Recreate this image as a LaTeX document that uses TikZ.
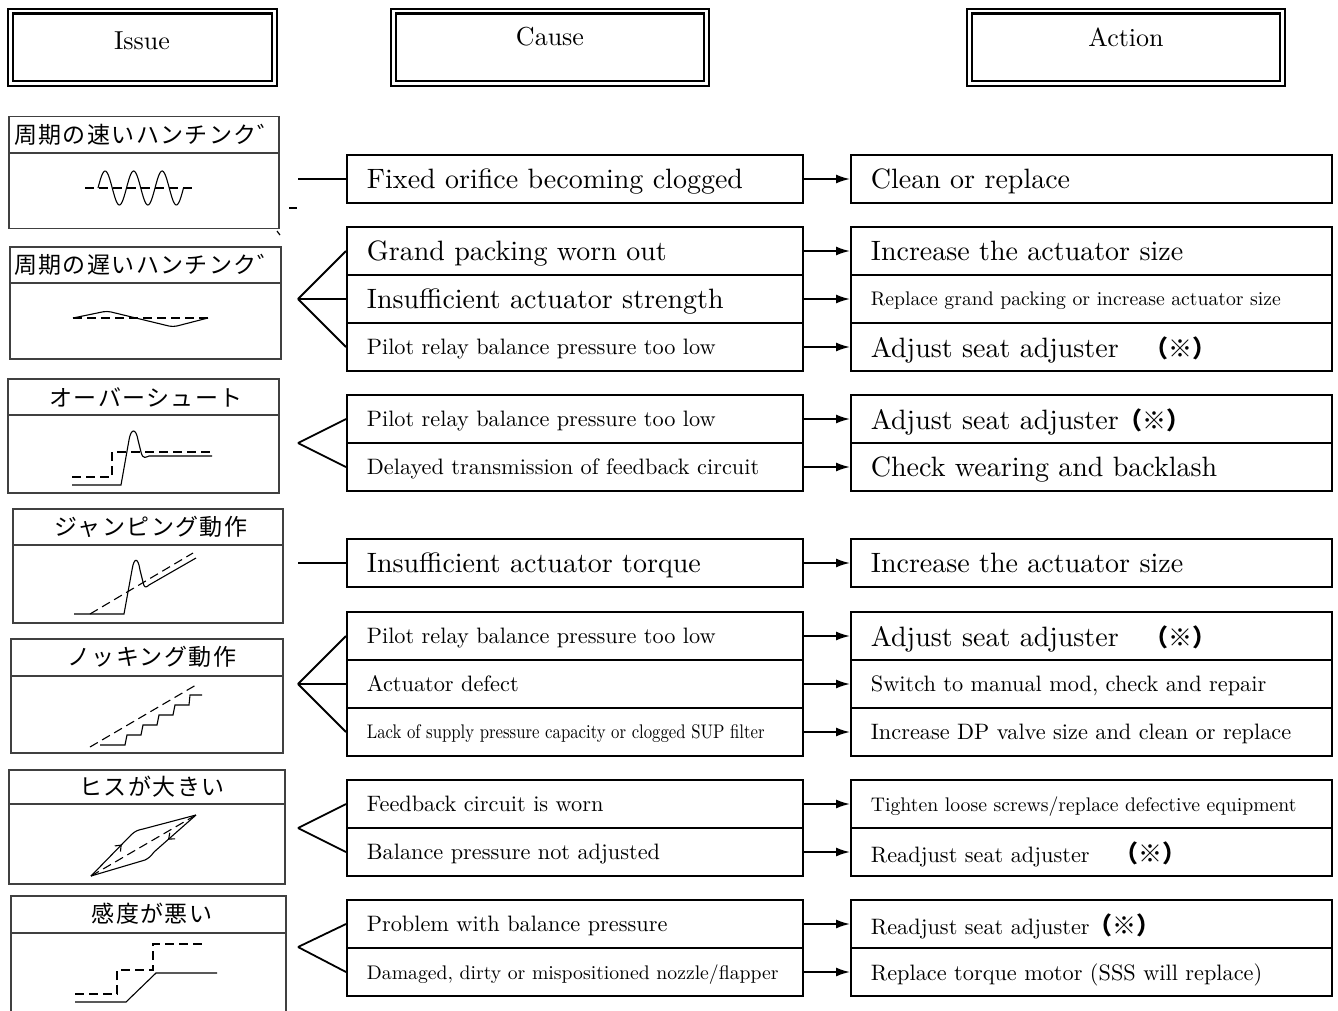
\documentclass[tikz,border=0pt]{standalone}
\usepackage{fontspec}
\usepackage{graphicx}
\setmainfont{lmroman10-regular}[Extension=.otf]
\newfontfamily\cjk{Noto Sans CJK JP}
\newfontfamily\cjkt{Noto Sans CJK JP}[LetterSpace=6]
\usetikzlibrary{arrows.meta,decorations.markings}
\newcommand\fL{\fontsize{28}{30}\selectfont}
\newcommand\fM{\fontsize{22.3}{24}\selectfont}
\newcommand\fS{\fontsize{19.7}{21}\selectfont}
\newcommand\fH{\fontsize{26}{28}\selectfont}
\newcommand\fJ{\cjkt\fontsize{23}{25}\selectfont}
\newcommand\kome{{\cjk\bfseries\fontsize{24}{26}\selectfont （※）}}
\begin{document}
\begin{tikzpicture}[x=1pt,y=-1pt,
 hdr/.style={draw, line width=2.4pt, double=white, double distance=2.2pt, inner sep=0pt},
 cbox/.style={draw, line width=1.8pt, anchor=west, text width=416pt, inner xsep=20pt, inner ysep=0pt, minimum height=48pt, align=left, text depth=0pt},
 abox/.style={cbox, text width=441pt},
 conn/.style={line width=1.8pt},
 arr/.style={conn, -{Latex[length=14pt,width=9pt]}},
 ibox/.style={draw=black!75, line width=1.3pt, inner sep=0pt},
 ibline/.style={draw=black!75, line width=1.3pt},
 ttl/.style={inner sep=0pt, font=\fJ},
 wv/.style={line width=1.1pt},
 dsh/.style={line width=1.1pt, dash pattern=on 9pt off 5pt},
 barb/.style={postaction={decorate}, decoration={markings, mark=at position #1 with {\arrow{Straight Barb[length=5pt,width=8pt]}}}}
]
\useasboundingbox (0,0) rectangle (1338,1010);
\fill[white] (0,0) rectangle (1338,1010);

% headers
\node[hdr, minimum width=264pt, minimum height=72.5pt] (hI) at (142.5,47.25) {};
\node[hdr, minimum width=313pt, minimum height=72.5pt] (hC) at (550,47.25) {};
\node[hdr, minimum width=313pt, minimum height=72.5pt] (hA) at (1126,47.25) {};
\node[font=\fH, inner sep=0pt] (tI) at (142,41) {Issue};
\node[font=\fH, inner sep=0pt] (tC) at (550,37) {Cause};
\node[font=\fH, inner sep=0pt] (tA) at (1126,37) {Action};

% issue boxes
\node[ibox, minimum width=270pt, minimum height=112pt] (i1) at (144,172.5) {};
\draw[ibline] (9,153) -- (279,153);
\node[ttl, anchor=west] (t1) at (14,135) {周期の速いハンチンク゛};
\node[ibox, minimum width=271pt, minimum height=112pt] (i2) at (145.5,303) {};
\draw[ibline] (10,283) -- (281,283);
\node[ttl, anchor=west] (t2) at (14,265) {周期の遅いハンチンク゛};
\node[ibox, minimum width=271pt, minimum height=114pt] (i3) at (143.5,436) {};
\draw[ibline] (8,415) -- (279,415);
\node[ttl] (t3) at (146,397) {オーバーシュート};
\node[ibox, minimum width=270pt, minimum height=114pt] (i4) at (148,566) {};
\draw[ibline] (13,545) -- (283,545);
\node[ttl] (t4) at (151,527) {ジャンピング動作};
\node[ibox, minimum width=272pt, minimum height=114pt] (i5) at (147,696) {};
\draw[ibline] (11,676) -- (283,676);
\node[ttl] (t5) at (152,657) {ノッキング動作};
\node[ibox, minimum width=276pt, minimum height=114pt] (i6) at (147,827) {};
\draw[ibline] (9,804) -- (285,804);
\node[ttl] (t6) at (152,787) {ヒスが大きい};
\draw[ibline] (11,1012) -- (11,896) -- (286,896) -- (286,1012);
\draw[ibline] (11,933) -- (286,933);
\node[ttl] (t7) at (152,914) {感度が悪い};

% stray marks
\draw[line width=1.6pt] (289,208) -- (297,208);
\draw[line width=1.2pt] (277,231) -- (280,235);

% waveforms
\draw[dsh] (85,188) -- (196,188);
\draw[wv] plot[domain=0:85.5, samples=90] ({98+\x}, {188-17*sin(\x*12.6316)});

\draw[dsh] (73,318) -- (208,318);
\draw[wv, rounded corners=4pt] (73,318) -- (107,311) -- (173,327) -- (208,318);

\draw[dsh] (72,477) -- (112,477) -- (112,452) -- (212,452);
\draw[wv] (72,485) -- (121,485) -- (129,440) .. controls (131,428) and (136,428) .. (138,440) -- (141,452) .. controls (143,460) and (146,457) .. (149,456) -- (212,456);

\draw[dsh] (90,614) -- (193,553);
\draw[wv] (74,614) -- (124,614) -- (132,570) .. controls (134,557) and (138,557) .. (140,570) -- (143,582) .. controls (144,588) and (146,588) .. (149,585) -- (196,558);

\draw[dsh] (90,747) -- (196,685);
\draw[wv] (100,745) -- (125,745) -- (127,735) -- (141,735) -- (143,725) -- (157,725) -- (159,715) -- (173,715) -- (175,705) -- (189,705) -- (190,695) -- (202,695);

\draw[dsh] (91,876) -- (196,815);
\draw[wv, barb=0.35] (91,876) -- (131,835) .. controls (135,831) and (138,830) .. (143,829) -- (196,815);
\draw[wv, barb=0.3] (196,815) -- (154,852) .. controls (151,856) and (149,858) .. (145,860) -- (91,876);

\draw[dsh] (75,994) -- (117,994) -- (117,970) -- (153,970) -- (153,944) -- (205,944);
\draw[wv] (75,1002) -- (126,1002) -- (156,973) -- (217,973);

% cause / action rows
\node[cbox, font=\fL] (c1) at (346,179) {Fixed orifice becoming clogged};
\node[abox, font=\fL] (a1) at (850,179) {Clean or replace};

\node[cbox, font=\fL] (c2a) at (346,251) {Grand packing worn out};
\node[abox, font=\fL] (a2a) at (850,251) {Increase the actuator size};
\node[cbox, font=\fL] (c2b) at (346,299) {Insufficient actuator strength};
\node[abox, font=\fS] (a2b) at (850,299) {Replace grand packing or increase actuator size};
\node[cbox, font=\fM] (c2c) at (346,347) {Pilot relay balance pressure too low};
\node[abox, font=\fL] (a2c) at (850,347) {\makebox[274pt][l]{Adjust seat adjuster}\kome};

\node[cbox, font=\fM] (c3a) at (346,419) {Pilot relay balance pressure too low};
\node[abox, font=\fL] (a3a) at (850,419) {Adjust seat adjuster\kome};
\node[cbox, font=\fM] (c3b) at (346,467) {Delayed transmission of feedback circuit};
\node[abox, font=\fL] (a3b) at (850,467) {Check wearing and backlash};

\node[cbox, font=\fL] (c4) at (346,563) {Insufficient actuator torque};
\node[abox, font=\fL] (a4) at (850,563) {Increase the actuator size};

\node[cbox, font=\fM] (c5a) at (346,636) {Pilot relay balance pressure too low};
\node[abox, font=\fL] (a5a) at (850,636) {\makebox[274pt][l]{Adjust seat adjuster}\kome};
\node[cbox, font=\fM] (c5b) at (346,684) {Actuator defect};
\node[abox, font=\fM] (a5b) at (850,684) {Switch to manual mod, check and repair};
\node[cbox, font=\fS] (c5c) at (346,732) {\scalebox{0.85}[1]{Lack of supply pressure capacity or clogged SUP filter}};
\node[abox, font=\fM] (a5c) at (850,732) {Increase DP valve size and clean or replace};

\node[cbox, font=\fM] (c6a) at (346,804) {Feedback circuit is worn};
\node[abox, font=\fS] (a6a) at (850,804) {Tighten loose screws/replace defective equipment};
\node[cbox, font=\fM] (c6b) at (346,852) {Balance pressure not adjusted};
\node[abox, font=\fM] (a6b) at (850,852) {\makebox[244pt][l]{Readjust seat adjuster}\kome};

\node[cbox, font=\fM] (c7a) at (346,924) {Problem with balance pressure};
\node[abox, font=\fM] (a7a) at (850,924) {\makebox[218pt][l]{Readjust seat adjuster}\kome};
\node[cbox, font=\fS] (c7b) at (346,972) {Damaged, dirty or mispositioned nozzle/flapper};
\node[abox, font=\fM] (a7b) at (850,972) {Replace torque motor (SSS will replace)};

% arrows cause -> action
\foreach \n in {1,2a,2b,2c,3a,3b,4,5a,5b,5c,6a,6b,7a,7b}
  \draw[arr] (c\n.east) -- (a\n.west);

% issue -> cause connectors
\coordinate (p1) at (298,179);
\coordinate (p2) at (298,299);
\coordinate (p3) at (298,443);
\coordinate (p4) at (298,563);
\coordinate (p5) at (298,684);
\coordinate (p6) at (298,828);
\coordinate (p7) at (298,947);
\draw[conn] (p1) -- (c1.west);
\draw[conn] (p2) -- (c2a.west);
\draw[conn] (p2) -- (c2b.west);
\draw[conn] (p2) -- (c2c.west);
\draw[conn] (p3) -- (c3a.west);
\draw[conn] (p3) -- (c3b.west);
\draw[conn] (p4) -- (c4.west);
\draw[conn] (p5) -- (c5a.west);
\draw[conn] (p5) -- (c5b.west);
\draw[conn] (p5) -- (c5c.west);
\draw[conn] (p6) -- (c6a.west);
\draw[conn] (p6) -- (c6b.west);
\draw[conn] (p7) -- (c7a.west);
\draw[conn] (p7) -- (c7b.west);
\end{tikzpicture}
\end{document}
